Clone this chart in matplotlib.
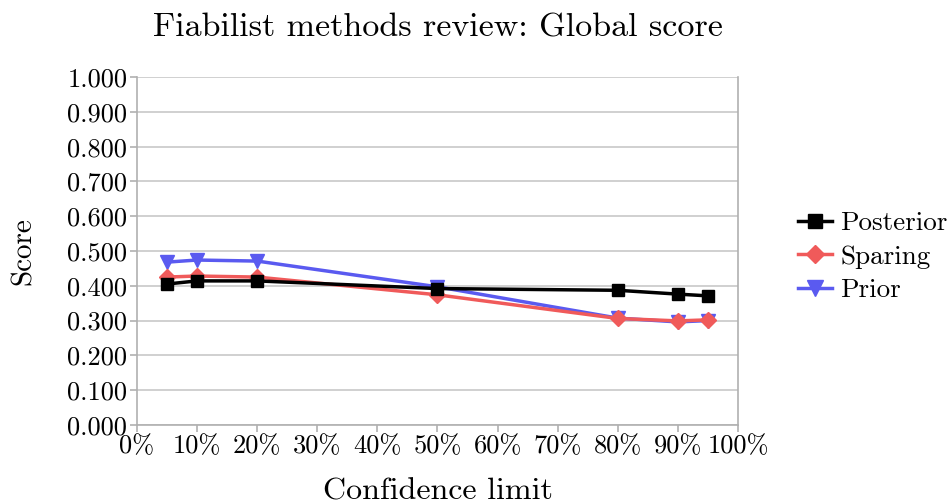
import matplotlib
matplotlib.use('Agg')
import matplotlib.pyplot as plt
from matplotlib.ticker import FixedLocator

plt.rcParams['font.family'] = 'serif'
plt.rcParams['font.serif'] = ['cmr10', 'DejaVu Serif']
plt.rcParams['mathtext.fontset'] = 'cm'
plt.rcParams['axes.formatter.use_mathtext'] = True

confidence = [5, 10, 20, 50, 80, 90, 95]
posterior = [0.405, 0.414, 0.414, 0.392, 0.387, 0.376, 0.371]
sparing = [0.425, 0.428, 0.425, 0.374, 0.306, 0.299, 0.302]
prior = [0.468, 0.474, 0.471, 0.397, 0.307, 0.296, 0.300]

x_ticks = list(range(0, 101, 10))
y_ticks = [i / 10 for i in range(11)]

fig = plt.figure(figsize=(9.51, 5.04), dpi=100)
ax = fig.add_axes([0.144, 0.157, 0.632, 0.690])

ax.plot(confidence, posterior, color='black', lw=2.5, marker='s', ms=9,
        label='Posterior', zorder=5)
ax.plot(confidence, sparing, color='#f05a5a', lw=2.5, marker='D', ms=8,
        label='Sparing', zorder=4)
ax.plot(confidence, prior, color='#5a5af0', lw=2.5, marker='v', ms=10,
        label='Prior', zorder=3)

ax.set_xlim(0, 100)
ax.set_ylim(0, 1)
ax.xaxis.set_major_locator(FixedLocator(x_ticks))
ax.yaxis.set_major_locator(FixedLocator(y_ticks))
ax.set_xticklabels([f'{t}%' for t in x_ticks])
ax.set_yticklabels([f'{t:.3f}' for t in y_ticks])
ax.tick_params(labelsize=19, color='#b0b0b0', length=5, width=1.2, pad=2)
ax.grid(axis='y', color='#c8c8c8', lw=1.2)
for s in ax.spines.values():
    s.set_color('#b0b0b0')
    s.set_linewidth(1.2)
ax.spines['top'].set_visible(False)

ax.set_xlabel('Confidence limit', fontsize=23, labelpad=14)
ax.set_ylabel('Score', fontsize=21, labelpad=22)
ax.set_title('Fiabilist methods review: Global score', fontsize=24.5, pad=29)

ax.legend(loc='center left', bbox_to_anchor=(1.06, 0.483), frameon=False,
          fontsize=19.5, handlelength=1.25, handletextpad=0.3,
          labelspacing=0.35, markerscale=1.15)

fig.savefig('out.png', dpi=100)
